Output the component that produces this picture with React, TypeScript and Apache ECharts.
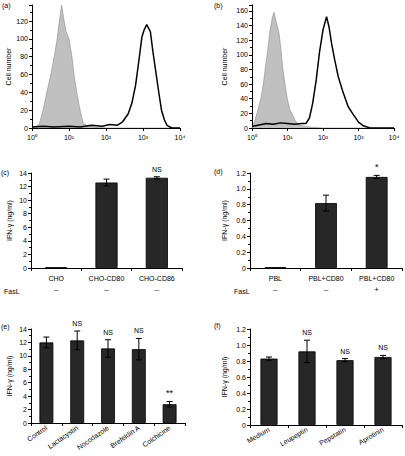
import React, { useEffect, useRef } from "react";
import * as echarts from "echarts";

const FONT = "Liberation Sans";

// Flow cytometry histograms: [log10 fluorescence, cell count]
const logTickLabels = ["10⁰", "10¹", "10²", "10³", "10⁴"];
const histA_control: number[][] = [
  [0, 0], [0.1, 1], [0.2, 5], [0.3, 20], [0.4, 40], [0.5, 58], [0.6, 80], [0.68, 100],
  [0.74, 120], [0.8, 138], [0.86, 122], [0.92, 108], [1.0, 100], [1.08, 80], [1.15, 55],
  [1.22, 38], [1.3, 20], [1.38, 6], [1.5, 2], [1.7, 1], [2.0, 0], [3.0, 0], [4, 0],
];
const histA_stained: number[][] = [
  [0, 1], [0.3, 2], [0.6, 1], [1.0, 2], [1.3, 1], [1.6, 3], [1.9, 2], [2.1, 4], [2.3, 3],
  [2.45, 7], [2.6, 16], [2.7, 28], [2.8, 48], [2.89, 76], [2.97, 102], [3.03, 110],
  [3.1, 116], [3.15, 112], [3.2, 108], [3.27, 85], [3.35, 62], [3.43, 39], [3.5, 20],
  [3.58, 9], [3.65, 3], [3.78, 0], [4, 0],
];
const histB_control: number[][] = [
  [0, 0], [0.08, 10], [0.15, 22], [0.24, 38], [0.32, 60], [0.38, 84], [0.44, 105],
  [0.5, 130], [0.56, 148], [0.62, 158], [0.68, 145], [0.76, 130], [0.82, 105], [0.86, 84],
  [0.93, 60], [1.0, 38], [1.07, 25], [1.14, 18], [1.22, 10], [1.33, 4], [1.5, 2],
  [1.7, 1], [2.0, 0], [3.0, 0], [4, 0],
];
const histB_stained: number[][] = [
  [0, 2], [0.2, 4], [0.4, 6], [0.6, 5], [0.8, 7], [1.0, 6], [1.2, 5], [1.4, 6], [1.52, 6],
  [1.62, 14], [1.71, 34], [1.81, 66], [1.9, 103], [2.0, 134], [2.1, 152], [2.17, 138],
  [2.24, 116], [2.33, 93], [2.43, 70], [2.57, 48], [2.71, 29], [2.86, 18], [3.0, 8],
  [3.14, 3], [3.33, 0], [4, 0],
];

// Panel (c)
const catC = ["CHO", "CHO-CD80", "CHO-CD86"];
const signC = ["–", "–", "–"];
const valC = [0.1, 12.6, 13.3];
const errC = [0, 0.5, 0.15];
const noteC = ["", "", "NS"];

// Panel (d)
const catD = ["PBL", "PBL+CD80", "PBL+CD80"];
const signD = ["–", "–", "+"];
const valD = [0.01, 0.82, 1.15];
const errD = [0, 0.1, 0.02];
const noteD = ["", "", "*"];

// Panel (e)
const catE = ["Control", "Lactacystin", "Nocodazole", "Brefeldin A", "Colchicine"];
const valE = [12.0, 12.3, 11.1, 11.0, 2.8];
const errE = [0.8, 1.4, 1.3, 1.6, 0.4];
const noteE = ["", "NS", "NS", "NS", "**"];

// Panel (f)
const catF = ["Medium", "Leupeptin", "Pepstatin", "Aprotinin"];
const valF = [0.83, 0.92, 0.81, 0.85];
const errF = [0.02, 0.14, 0.02, 0.02];
const noteF = ["", "NS", "NS", "NS"];

const txt = { color: "#000", fontFamily: FONT, fontSize: 7 };
const axLine = { show: true, lineStyle: { color: "#000", width: 1 } };
const axTick = { show: true, length: 3, lineStyle: { color: "#000" } };

function histX(gridIndex: number) {
  return {
    type: "value", gridIndex, min: 0, max: 4, interval: 1,
    axisLine: axLine, axisTick: axTick, splitLine: { show: false },
    axisLabel: { ...txt, margin: 6, formatter: (v: number) => logTickLabels[v] ?? "" },
  };
}
function histY(gridIndex: number, max: number, top: number, gap: number) {
  return {
    type: "value", gridIndex, min: 0, max, interval: 20,
    name: "Cell number", nameLocation: "middle", nameGap: gap,
    nameTextStyle: { ...txt },
    axisLine: axLine, axisTick: axTick, splitLine: { show: false },
    minorTick: { show: true, splitNumber: 2, length: 2, lineStyle: { color: "#000" } },
    axisLabel: { ...txt, margin: 4, formatter: (v: number) => (v <= top ? String(v) : "") },
  };
}
function barX(gridIndex: number, data: string[], signs: string[] | null, rotate: number) {
  return {
    type: "category", gridIndex, data,
    axisLine: axLine, axisTick: { ...axTick, alignWithLabel: false },
    axisLabel: signs
      ? {
          ...txt, interval: 0, margin: 6, lineHeight: 9,
          formatter: (v: string, i: number) => `${v}\n{s|${signs[i]}}`,
          rich: { s: { fontFamily: FONT, fontSize: 8, color: "#000", lineHeight: 13 } },
        }
      : { ...txt, interval: 0, margin: 4, rotate },
  };
}
function barY(gridIndex: number, max: number, interval: number, gap: number, dec: boolean) {
  return {
    type: "value", gridIndex, min: 0, max, interval,
    name: "IFN-γ (ng/ml)", nameLocation: "middle", nameGap: gap,
    nameTextStyle: { ...txt },
    axisLine: axLine, axisTick: axTick, splitLine: { show: false },
    minorTick: { show: true, splitNumber: 2, length: 2, lineStyle: { color: "#000" } },
    axisLabel: { ...txt, margin: 4, formatter: (v: number) => (v === 0 ? "0" : dec ? v.toFixed(1) : String(v)) },
  };
}
function barSeries(idx: number, vals: number[], width: string) {
  return {
    type: "bar", xAxisIndex: idx, yAxisIndex: idx, data: vals, barWidth: width,
    itemStyle: { color: "#272727", borderColor: "#000", borderWidth: 0.8 },
  };
}
function errSeries(idx: number, vals: number[], errs: number[], notes: string[]) {
  return {
    type: "custom", xAxisIndex: idx, yAxisIndex: idx, z: 5,
    encode: { x: 0, y: 1 },
    data: vals.map((v, i) => [i, v, errs[i]]),
    renderItem: (params: any, api: any) => {
      const i = api.value(0);
      const v = api.value(1);
      const e = api.value(2);
      const hi = api.coord([i, v + e]);
      const lo = api.coord([i, v - e]);
      const cap = 3;
      const children: any[] = [];
      const ls = { stroke: "#000", lineWidth: 1 };
      if (e > 0) {
        children.push({ type: "line", shape: { x1: hi[0], y1: hi[1], x2: lo[0], y2: lo[1] }, style: ls });
        children.push({ type: "line", shape: { x1: hi[0] - cap, y1: hi[1], x2: hi[0] + cap, y2: hi[1] }, style: ls });
        children.push({ type: "line", shape: { x1: lo[0] - cap, y1: lo[1], x2: lo[0] + cap, y2: lo[1] }, style: ls });
      }
      const note = notes[params.dataIndex];
      if (note) {
        children.push({
          type: "text",
          style: {
            text: note, x: hi[0], y: hi[1] - 4, align: "center", verticalAlign: "bottom",
            fill: "#000", fontFamily: FONT, fontSize: note.includes("*") ? 9 : 7,
          },
        });
      }
      return { type: "group", children };
    },
  };
}

function label(text: string, left: number, top: number) {
  return { type: "text", left, top, style: { text, fill: "#000", fontFamily: FONT, fontSize: 7 } };
}

export default function App() {
  const ref = useRef<HTMLDivElement>(null);
  useEffect(() => {
    if (!ref.current) return;
    const chart = echarts.init(ref.current, null, { renderer: "svg" });
    const option: any = {
      animation: false,
      backgroundColor: "#fff",
      grid: [
        { left: 32, top: 5, width: 148, height: 123 },
        { left: 252, top: 5, width: 142, height: 123 },
        { left: 31, top: 173, width: 151, height: 95 },
        { left: 250, top: 173, width: 152, height: 95 },
        { left: 31, top: 329, width: 154, height: 94 },
        { left: 250, top: 329, width: 152, height: 96 },
      ],
      xAxis: [
        histX(0),
        histX(1),
        barX(2, catC, signC, 0),
        barX(3, catD, signD, 0),
        barX(4, catE, null, 35),
        barX(5, catF, null, 30),
      ],
      yAxis: [
        histY(0, 138, 120, 19),
        histY(1, 168, 160, 24),
        barY(2, 14, 2, 18, false),
        barY(3, 1.2, 0.2, 22, true),
        barY(4, 14, 2, 18, false),
        barY(5, 1.2, 0.2, 22, true),
      ],
      series: [
        {
          type: "line", xAxisIndex: 0, yAxisIndex: 0, data: histA_control, symbol: "none",
          lineStyle: { color: "#8c8c8c", width: 0.6 }, areaStyle: { color: "#c0c0c0", opacity: 1 }, z: 1,
        },
        {
          type: "line", xAxisIndex: 0, yAxisIndex: 0, data: histA_stained, symbol: "none",
          lineStyle: { color: "#000", width: 1.5 }, z: 2,
        },
        {
          type: "line", xAxisIndex: 1, yAxisIndex: 1, data: histB_control, symbol: "none",
          lineStyle: { color: "#8c8c8c", width: 0.6 }, areaStyle: { color: "#c0c0c0", opacity: 1 }, z: 1,
        },
        {
          type: "line", xAxisIndex: 1, yAxisIndex: 1, data: histB_stained, symbol: "none",
          lineStyle: { color: "#000", width: 1.5 }, z: 2,
        },
        barSeries(2, valC, "44%"),
        errSeries(2, valC, errC, noteC),
        barSeries(3, valD, "43%"),
        errSeries(3, valD, errD, noteD),
        barSeries(4, valE, "45%"),
        errSeries(4, valE, errE, noteE),
        barSeries(5, valF, "45%"),
        errSeries(5, valF, errF, noteF),
      ],
      graphic: [
        label("(a)", 2, 2),
        label("(b)", 214, 2),
        label("(c)", 1, 169),
        label("(d)", 214, 168),
        label("(e)", 1, 323),
        label("(f)", 214, 322),
        label("FasL", 4, 288),
        label("FasL", 234, 288),
      ],
    };
    chart.setOption(option);
    return () => chart.dispose();
  }, []);
  return (
    <div
      ref={ref}
      style={{ position: "absolute", left: 0, top: 0, width: 405, height: 456, background: "#fff" }}
    />
  );
}
